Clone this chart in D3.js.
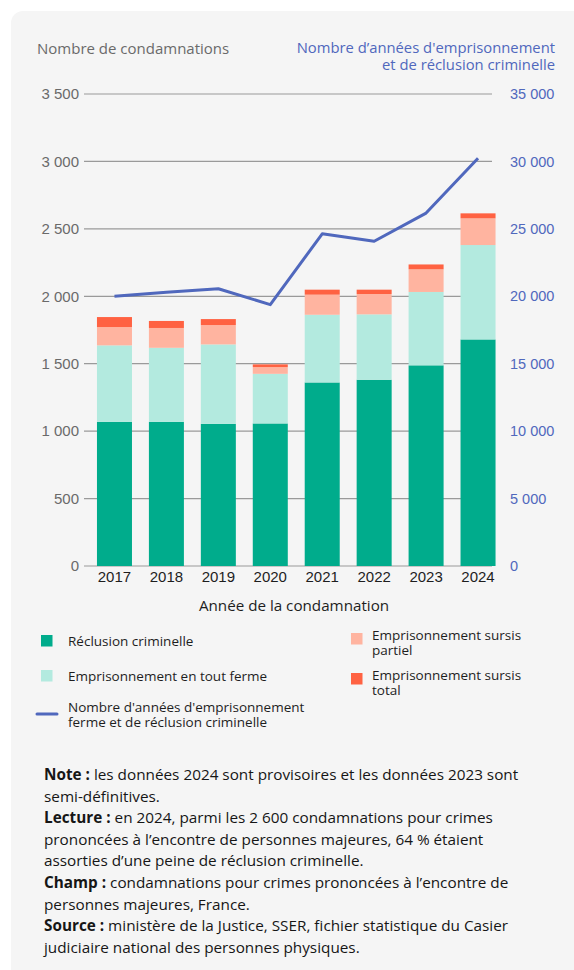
<!DOCTYPE html>
<html>
<head>
<meta charset="utf-8">
<script src="https://cdn.jsdelivr.net/npm/d3@7"></script>
<style>
  html, body { margin: 0; padding: 0; background: #ffffff; }
  svg { display: block; font-family: "Open Sans", "Noto Sans", sans-serif; }
</style>
</head>
<body>
<div id="chart"></div>
<script>
const years = ["2017", "2018", "2019", "2020", "2021", "2022", "2023", "2024"]

// condamnations par type de peine
const reclusion = [1069, 1069, 1054, 1057, 1361, 1381, 1488, 1680]
const fermeTout = [567, 549, 589, 368, 502, 485, 544, 700]
const sursisPartiel = [136, 147, 144, 50, 149, 151, 168, 198]
const sursisTotal = [74, 52, 44, 20, 37, 32, 36, 37]

// nombre d'années d'emprisonnement ferme et de réclusion
const annees = [20000, 20300, 20560, 19380, 24630, 24080, 26170, 30240]

const leftTicks = [0, 500, 1000, 1500, 2000, 2500, 3000, 3500]
const rightTicks = [0, 5000, 10000, 15000, 20000, 25000, 30000, 35000]

const seriesKeys = ["reclusion", "ferme", "partiel", "total"]
const seriesLabels = ["Réclusion criminelle", "Emprisonnement en tout ferme",
  ["Emprisonnement sursis", "partiel"], ["Emprisonnement sursis", "total"]]
const colors = ["#00ac8c", "#b3eadf", "#ffb4a0", "#ff6242"]
const lineColor = "#5068bd"

const width = 574, height = 970

const svg = d3.select("#chart").append("svg")
  .attr("width", width)
  .attr("height", height)

// grey rounded panel
svg.append("rect")
  .attr("x", 11).attr("y", 11)
  .attr("width", 620).attr("height", 1000)
  .attr("rx", 12)
  .attr("fill", "#f5f5f5")

const table = years.map(function(y, i) {
  return { year: y, reclusion: reclusion[i], ferme: fermeTout[i], partiel: sursisPartiel[i], total: sursisTotal[i] }
})
const stacked = d3.stack().keys(seriesKeys)(table)

const x = d3.scaleBand().domain(years).range([88.5, 504]).paddingInner(0.326).paddingOuter(0.163)
const yLeft = d3.scaleLinear().domain([0, 3500]).range([566, 94])
const yRight = d3.scaleLinear().domain([0, 35000]).range([566, 94])

const fmt = function(v) { return d3.format(",")(v).replace(/,/g, " ") }

// grid lines + left axis
const gLeft = svg.append("g")
  .attr("transform", "translate(84,0)")
  .call(d3.axisLeft(yLeft).tickValues(leftTicks).tickSize(0).tickPadding(5).tickFormat(fmt))
gLeft.select(".domain").remove()
gLeft.selectAll("text")
  .attr("fill", "#6a6a6a")
  .style("font-size", "15px")

svg.append("g").selectAll("line")
  .data(leftTicks)
  .enter().append("line")
  .attr("x1", 84).attr("x2", 492)
  .attr("y1", function(d) { return yLeft(d) })
  .attr("y2", function(d) { return yLeft(d) })
  .attr("stroke", "#9a9a9a")
  .attr("stroke-width", 1.2)

// right axis
const gRight = svg.append("g")
  .attr("transform", "translate(504,0)")
  .call(d3.axisRight(yRight).tickValues(rightTicks).tickSize(0).tickPadding(6).tickFormat(fmt))
gRight.select(".domain").remove()
gRight.selectAll("text")
  .attr("fill", lineColor)
  .style("font-size", "14.5px")

// bars
svg.append("g").selectAll("g")
  .data(stacked)
  .enter().append("g")
  .attr("fill", function(d, i) { return colors[i] })
  .selectAll("rect")
  .data(function(d) { return d })
  .enter().append("rect")
  .attr("x", function(d) { return x(d.data.year) })
  .attr("width", x.bandwidth())
  .attr("y", function(d) { return yLeft(d[1]) })
  .attr("height", function(d) { return yLeft(d[0]) - yLeft(d[1]) })

// x axis labels
const gX = svg.append("g")
  .attr("transform", "translate(0,566)")
  .call(d3.axisBottom(x).tickSize(0).tickPadding(5))
gX.select(".domain").remove()
gX.selectAll("text")
  .attr("fill", "#1e1e1e")
  .style("font-size", "15px")

// line
const line = d3.line()
  .x(function(d, i) { return x(years[i]) + x.bandwidth() / 2 })
  .y(function(d) { return yRight(d) })
svg.append("path")
  .datum(annees)
  .attr("d", line)
  .attr("fill", "none")
  .attr("stroke", lineColor)
  .attr("stroke-width", 3)
  .attr("stroke-linejoin", "round")

// axis titles
svg.append("text")
  .attr("x", 37).attr("y", 54)
  .attr("fill", "#6a6a6a")
  .style("font-size", "15px")
  .text("Nombre de condamnations")

svg.append("text")
  .attr("text-anchor", "end")
  .attr("fill", lineColor)
  .style("font-size", "14.8px")
  .selectAll("tspan")
  .data(["Nombre d\u2019années d'emprisonnement", "et de réclusion criminelle"])
  .enter().append("tspan")
  .attr("x", 555)
  .attr("y", function(d, i) { return 53 + i * 17 })
  .text(function(d) { return d })

svg.append("text")
  .attr("x", 294).attr("y", 611)
  .attr("text-anchor", "middle")
  .attr("fill", "#1e1e1e")
  .style("font-size", "15.2px")
  .text("Année de la condamnation")

// legend
const legendItems = [
  { i: 0, x: 41, y: 635, tx: 68, ty: [646] },
  { i: 1, x: 41, y: 670, tx: 68, ty: [681] },
  { i: 2, x: 351, y: 633, tx: 372, ty: [640, 655] },
  { i: 3, x: 351, y: 673, tx: 372, ty: [680, 695] }
]
const legend = svg.append("g")
legendItems.forEach(function(it) {
  legend.append("rect")
    .attr("x", it.x).attr("y", it.y)
    .attr("width", 11.5).attr("height", 11.5)
    .attr("fill", colors[it.i])
  const lab = [].concat(seriesLabels[it.i])
  legend.append("text")
    .attr("fill", "#1e1e1e")
    .style("font-size", "13.5px")
    .selectAll("tspan")
    .data(lab)
    .enter().append("tspan")
    .attr("x", it.tx)
    .attr("y", function(d, k) { return it.ty[k] })
    .text(function(d) { return d })
})
legend.append("line")
  .attr("x1", 37).attr("x2", 57)
  .attr("y1", 714).attr("y2", 714)
  .attr("stroke", lineColor)
  .attr("stroke-width", 3)
  .attr("stroke-linecap", "round")
legend.append("text")
  .attr("fill", "#1e1e1e")
  .style("font-size", "13.5px")
  .selectAll("tspan")
  .data(["Nombre d'années d'emprisonnement", "ferme et de réclusion criminelle"])
  .enter().append("tspan")
  .attr("x", 68)
  .attr("y", function(d, k) { return 712 + k * 15 })
  .text(function(d) { return d })

// notes
const notes = [
  [["Note : ", true], ["les données 2024 sont provisoires et les données 2023 sont", false]],
  [["semi-définitives.", false]],
  [["Lecture : ", true], ["en 2024, parmi les 2 600 condamnations pour crimes", false]],
  [["prononcées à l\u2019encontre de personnes majeures, 64 % étaient", false]],
  [["assorties d\u2019une peine de réclusion criminelle.", false]],
  [["Champ : ", true], ["condamnations pour crimes prononcées à l\u2019encontre de", false]],
  [["personnes majeures, France.", false]],
  [["Source : ", true], ["ministère de la Justice, SSER, fichier statistique du Casier", false]],
  [["judiciaire national des personnes physiques.", false]]
]
notes.forEach(function(parts, k) {
  const t = svg.append("text")
    .attr("x", 44)
    .attr("y", 780 + k * 21.6)
    .attr("fill", "#161616")
    .style("font-size", "15.3px")
  parts.forEach(function(p) {
    t.append("tspan")
      .attr("font-weight", p[1] ? "bold" : "normal")
      .text(p[0])
  })
})
</script>
</body>
</html>
